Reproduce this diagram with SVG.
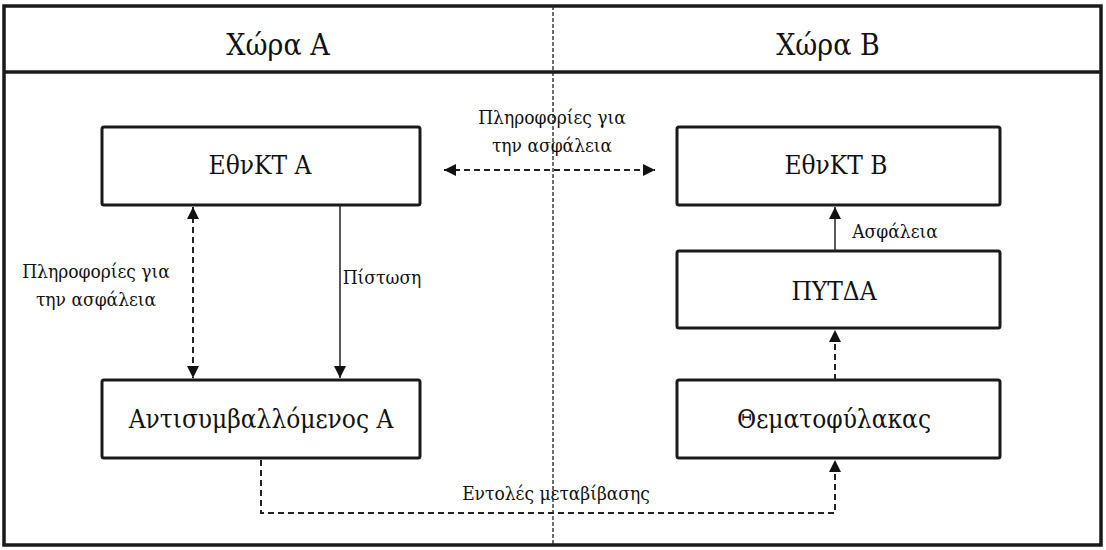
<svg xmlns="http://www.w3.org/2000/svg" width="1106" height="550" viewBox="0 0 1106 550">
<style>
.box{fill:#fff;stroke:#1a1a1a;stroke-width:3}
.t{fill:#111;text-anchor:middle}
.big{font-size:30px}
.mid{font-size:26px}
.sm{font-size:19px}
.ln{fill:none;stroke:#222;stroke-width:1.5}
.dash{stroke-dasharray:6,4;stroke-width:2}
</style>
<defs>
<marker id="ah" viewBox="0 0 10 10" refX="10" refY="5" markerWidth="12" markerHeight="12" markerUnits="userSpaceOnUse" orient="auto-start-reverse">
<path d="M0,0 L10,5 L0,10 z" fill="#111"/>
</marker>
</defs>
<rect x="0" y="0" width="1106" height="550" fill="#fff"/>
<g id="frame">
<rect x="4" y="6" width="1097" height="539" fill="none" stroke="#1a1a1a" stroke-width="3.5"/>
<line x1="4" y1="72" x2="1101" y2="72" stroke="#1a1a1a" stroke-width="3.5"/>
<line x1="553" y1="6" x2="553" y2="545" stroke="#222" stroke-width="1.3" stroke-dasharray="4,2"/>
</g>
<g font-family="'DejaVu Serif Condensed', 'DejaVu Serif', serif">
<g id="header-a"><text class="t big" x="278" y="55">Χώρα Α</text></g>
<g id="header-b"><text class="t big" x="828" y="55">Χώρα Β</text></g>
<g id="ethnkt-a">
<rect class="box" x="102" y="127" width="318" height="78" rx="2"/>
<text class="t mid" x="260" y="174">ΕθνΚΤ Α</text>
</g>
<g id="ethnkt-b">
<rect class="box" x="677" y="127" width="323" height="78" rx="2"/>
<text class="t mid" x="836" y="174">ΕθνΚΤ Β</text>
</g>
<g id="pytda">
<rect class="box" x="677" y="251" width="323" height="77" rx="2"/>
<text class="t mid" x="834" y="300">ΠΥΤΔΑ</text>
</g>
<g id="thematofylakas">
<rect class="box" x="677" y="380" width="323" height="78" rx="2"/>
<text class="t mid" x="834" y="428">Θεματοφύλακας</text>
</g>
<g id="antisymvallomenos-a">
<rect class="box" x="102" y="380" width="318" height="78" rx="2"/>
<text class="t mid" x="261" y="428">Αντισυμβαλλόμενος Α</text>
</g>
<g id="connectors">
<line class="ln dash" x1="444" y1="170" x2="655" y2="170" marker-start="url(#ah)" marker-end="url(#ah)"/>
<line class="ln dash" x1="193" y1="207" x2="193" y2="378" marker-start="url(#ah)" marker-end="url(#ah)"/>
<line class="ln" x1="340" y1="205" x2="340" y2="378" marker-end="url(#ah)"/>
<line class="ln" x1="835" y1="251" x2="835" y2="207" marker-end="url(#ah)"/>
<line class="ln dash" x1="835" y1="380" x2="835" y2="330" marker-end="url(#ah)"/>
<polyline class="ln dash" points="261,460 261,513 835,513 835,460" marker-end="url(#ah)"/>
</g>
<g id="labels">
<text class="t sm" x="552" y="124">Πληροφορίες για</text>
<text class="t sm" x="552" y="152">την ασφάλεια</text>
<text class="t sm" x="96" y="278">Πληροφορίες για</text>
<text class="t sm" x="96" y="306">την ασφάλεια</text>
<text class="t sm" x="382" y="284">Πίστωση</text>
<text class="t sm" x="895" y="238">Ασφάλεια</text>
<text class="t sm" x="556" y="500">Εντολές μεταβίβασης</text>
</g>
</g>
</svg>
